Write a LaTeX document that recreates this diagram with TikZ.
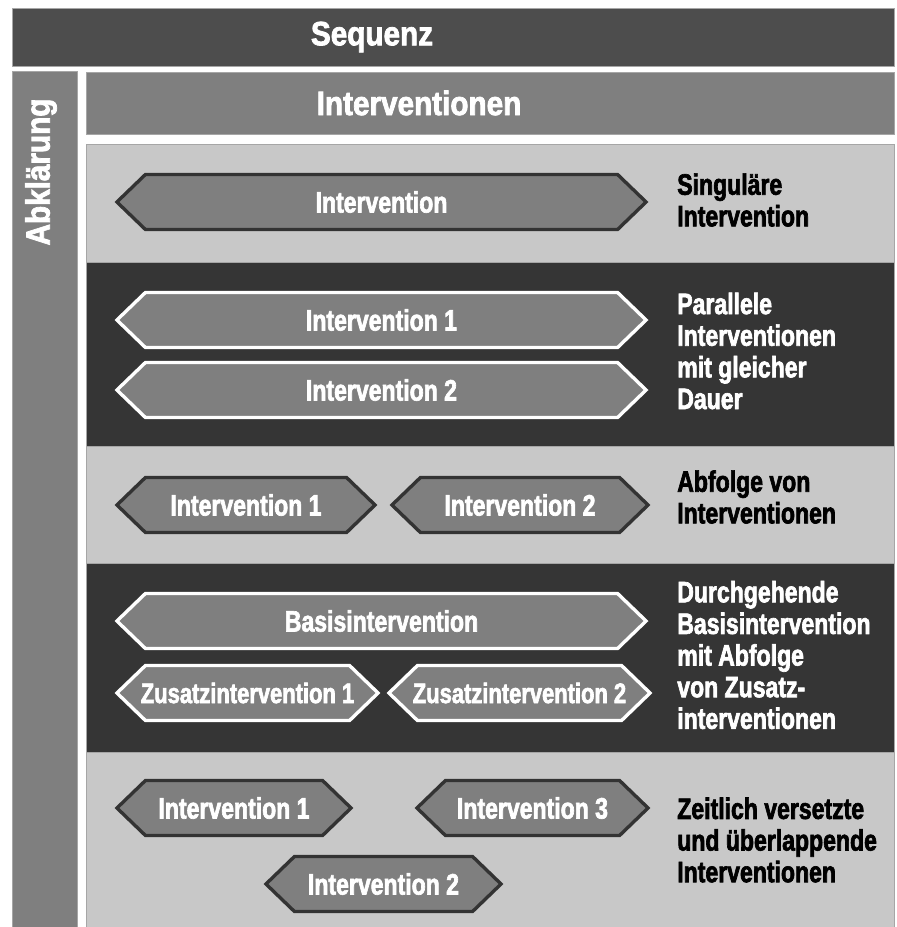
\documentclass[tikz,border=0pt]{standalone}
\usepackage{fontspec}
\setmainfont{Liberation Sans}
\newfontfamily\headfont{Liberation Sans}[FakeStretch=0.88,FakeBold=2.2]
\newfontfamily\hexfont{Liberation Sans}[FakeStretch=0.78,FakeBold=2.2]
\usetikzlibrary{shapes.symbols,positioning}

\definecolor{seqgray}{HTML}{4D4D4D}
\definecolor{midgray}{HTML}{7F7F7F}
\definecolor{lightrow}{HTML}{C8C8C8}
\definecolor{darkrow}{HTML}{353535}
\definecolor{edgegray}{HTML}{333333}

\newcommand{\tightlabel}[1]{\makebox[0pt]{#1}}

\begin{document}
\begin{tikzpicture}[x=0.025cm,y=-0.025cm,
	hex/.style={signal, signal to=west and east, signal pointer angle=88,
		fill=midgray, line width=2.4pt, minimum height=1.375cm, inner sep=0pt,
		text=white, font=\hexfont\bfseries\fontsize{21}{22}\selectfont},
	hexonlight/.style={hex, draw=edgegray},
	hexondark/.style={hex, draw=white},
	smalltext/.style={font=\hexfont\bfseries\fontsize{20}{22}\selectfont},
	head/.style={text=white, inner sep=0pt, font=\headfont\bfseries\fontsize{24}{24}\selectfont},
	lbl/.style={anchor=west, align=left, inner sep=0pt,
		font=\hexfont\bfseries\fontsize{21}{22.5}\selectfont},
	rowline/.style={draw=gray!70, line width=0.5pt}]
	\useasboundingbox (0,0) rectangle (896,927);

	% header bars
	\filldraw[fill=seqgray, rowline] (12,8) rectangle (894,66);
	\filldraw[fill=midgray, rowline] (12,71) rectangle (77,927);
	\filldraw[fill=midgray, rowline] (86,72) rectangle (894,134);
	\node[head] (seq) at (372,37) {Sequenz};
	\node[head, rotate=90] (abkl) at (41,172) {Abklärung};
	\node[head] (intv) at (419,103) {Interventionen};

	% rows
	\filldraw[fill=lightrow, rowline] (86,144) rectangle (894,262);
	\filldraw[fill=darkrow, rowline] (86,262) rectangle (894,446);
	\filldraw[fill=lightrow, rowline] (86,446) rectangle (894,563);
	\filldraw[fill=darkrow, rowline] (86,563) rectangle (894,752);
	\filldraw[fill=lightrow, rowline] (86,752) rectangle (894,927);

	% singular
	\node[hexonlight, minimum width=13.225cm] (single) at (381.5,202) {Intervention};
	\node[lbl] (lsingle) at (677,200) {Singuläre\\Intervention};

	% parallel
	\node[hexondark, minimum width=13.225cm] (par1) at (381.5,320) {Intervention 1};
	\node[hexondark, minimum width=13.225cm] (par2) at (381.5,390) {Intervention 2};
	\node[lbl, text=white] (lpar) at (677,351) {Parallele\\Interventionen\\mit gleicher\\Dauer};

	% sequence
	\node[hexonlight, minimum width=6.45cm] (seq1) at (246,505) {Intervention 1};
	\node[hexonlight, minimum width=6.4cm] (seq2) at (520,505) {Intervention 2};
	\node[lbl] (lseq) at (677,497) {Abfolge von\\Interventionen};

	% basis + additional
	\node[hexondark, minimum width=13.225cm] (basis) at (381.5,621) {Basisintervention};
	\node[hexondark, smalltext, minimum width=6.525cm] (add1) at (247.5,693) {\tightlabel{Zusatzintervention 1}};
	\node[hexondark, smalltext, minimum width=6.525cm] (add2) at (519.5,693) {\tightlabel{Zusatzintervention 2}};
	\node[lbl, text=white] (lbasis) at (677,655) {Durchgehende\\Basisintervention\\mit Abfolge\\von Zusatz-\\interventionen};

	% offset
	\node[hexonlight, minimum width=5.85cm] (off1) at (234,808) {Intervention 1};
	\node[hexonlight, minimum width=5.775cm] (off3) at (532.5,808) {Intervention 3};
	\node[hexonlight, minimum width=5.875cm] (off2) at (383.5,884) {Intervention 2};
	\node[lbl] (loff) at (677,840) {Zeitlich versetzte\\und überlappende\\Interventionen};
\end{tikzpicture}
\end{document}
